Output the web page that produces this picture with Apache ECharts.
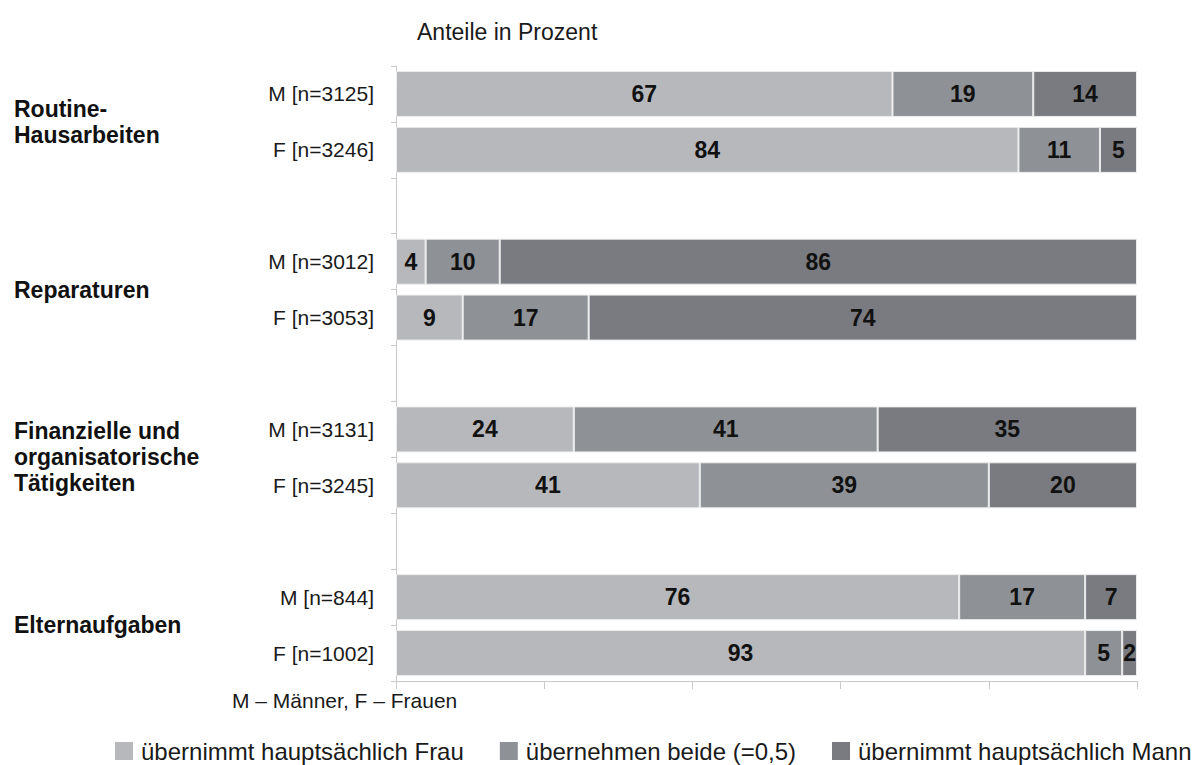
<!DOCTYPE html>
<html>
<head>
<meta charset="utf-8">
<script src="https://cdn.jsdelivr.net/npm/echarts@6/dist/echarts.min.js"></script>
<style>
  html, body { margin: 0; padding: 0; background: #fff; }
  #chart { width: 1199px; height: 765px; }
</style>
</head>
<body>
<div id="chart"></div>
<script>
// Task groups (left-hand bold labels) and the respondent rows inside each group
const groups = ['Routine-\nHausarbeiten', 'Reparaturen', 'Finanzielle und\norganisatorische\nTätigkeiten', 'Elternaufgaben'];
const rowLabels = [
  ['M [n=3125]', 'F [n=3246]'],
  ['M [n=3012]', 'F [n=3053]'],
  ['M [n=3131]', 'F [n=3245]'],
  ['M [n=844]', 'F [n=1002]']
];

// Shares in percent, one entry per row (M, F) in each group
const frau  = [[67, 84], [4, 9],   [24, 41], [76, 93]];
const beide = [[19, 11], [10, 17], [41, 39], [17, 5]];
const mann  = [[14, 5],  [86, 74], [35, 20], [7, 2]];

const seriesNames = ['übernimmt hauptsächlich Frau', 'übernehmen beide (=0,5)', 'übernimmt hauptsächlich Mann'];
const seriesColors = ['#b7b8bc', '#8e9195', '#7a7b80'];

const titleText = 'Anteile in Prozent';
const noteText = 'M – Männer, F – Frauen';

// Flatten rows into one category list, with an empty spacer row between groups
const categories = [];
const flat = [[], [], []];
groups.forEach((g, gi) => {
  rowLabels[gi].forEach((lab, ri) => {
    categories.push(lab);
    flat[0].push(frau[gi][ri]);
    flat[1].push(beide[gi][ri]);
    flat[2].push(mann[gi][ri]);
  });
  if (gi < groups.length - 1) {
    categories.push(' '.repeat(gi + 1));
    flat.forEach(a => a.push(null));
  }
});

const FONT = "'Liberation Sans', Arial, Helvetica, sans-serif";

const chart = echarts.init(document.getElementById('chart'), null, { renderer: 'svg' });

const option = {
  animation: false,
  backgroundColor: '#fff',
  textStyle: { fontFamily: FONT },
  title: {
    text: titleText,
    left: 412,
    top: 15,
    textStyle: { fontFamily: FONT, fontSize: 23, fontWeight: 'normal', color: '#1a1a1a' }
  },
  legend: {
    top: 734,
    left: 110,
    itemWidth: 18,
    itemHeight: 18,
    itemGap: 36,
    icon: 'rect',
    itemStyle: { borderWidth: 0 },
    textStyle: { fontFamily: FONT, fontSize: 24, color: '#1a1a1a', padding: [0, 0, 0, 3] },
    data: seriesNames
  },
  grid: { left: 396, right: 62, top: 66, bottom: 84 },
  xAxis: {
    type: 'value',
    min: 0,
    max: 100,
    interval: 20,
    axisLine: { show: true, lineStyle: { color: '#c9c9c9', width: 1 } },
    axisTick: { show: true, length: 8, lineStyle: { color: '#c9c9c9' } },
    axisLabel: { show: false },
    splitLine: { show: false }
  },
  yAxis: {
    type: 'category',
    inverse: true,
    data: categories,
    axisLine: { show: true, lineStyle: { color: '#c9c9c9', width: 1 } },
    axisTick: { show: true, length: 5, lineStyle: { color: '#c9c9c9' } },
    axisLabel: { fontFamily: FONT, fontSize: 21, color: '#1a1a1a', margin: 22 }
  },
  series: seriesNames.map((name, i) => ({
    name: name,
    type: 'bar',
    stack: 'total',
    barWidth: 46,
    data: flat[i],
    itemStyle: { color: seriesColors[i], borderColor: '#ececec', borderWidth: 1 },
    label: {
      show: true,
      position: 'inside',
      fontFamily: FONT,
      fontSize: 23,
      fontWeight: 'bold',
      color: '#111'
    }
  }))
};

chart.setOption(option);

// Bold group captions, vertically centred between the two rows of each group
const LINE_H = 26;
const graphics = groups.map((g, gi) => {
  const y1 = chart.convertToPixel({ yAxisIndex: 0 }, rowLabels[gi][0]);
  const y2 = chart.convertToPixel({ yAxisIndex: 0 }, rowLabels[gi][1]);
  return {
    type: 'text',
    left: 14,
    top: (y1 + y2) / 2 - g.split('\n').length * LINE_H / 2,
    style: {
      text: g,
      fontFamily: FONT,
      fontSize: 23,
      fontWeight: 'bold',
      lineHeight: LINE_H,
      fill: '#111'
    }
  };
});
graphics.push({
  type: 'text',
  left: 232,
  top: 690,
  style: { text: noteText, fontFamily: FONT, fontSize: 21, fill: '#1a1a1a' }
});
chart.setOption({ graphic: graphics });
</script>
</body>
</html>
